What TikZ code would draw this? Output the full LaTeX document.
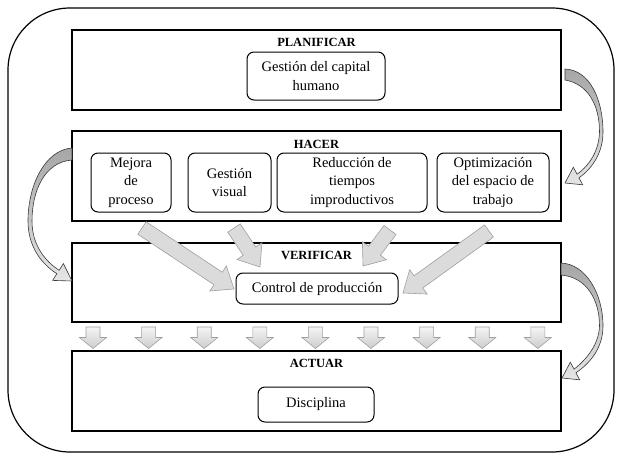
\documentclass[tikz,border=0pt]{standalone}
\usepackage{fontspec}
\setmainfont{Liberation Serif}
\newfontfamily\tnr{Liberation Serif}
\usetikzlibrary{calc}
\newcommand\diagarrow[4]{%
  \pgfmathsetmacro\ddx{#3-#1}\pgfmathsetmacro\ddy{#4-#2}%
  \pgfmathsetmacro\LL{veclen(\ddx,\ddy)}\pgfmathsetmacro\aang{atan2(-\ddy,\ddx)}%
  \begin{scope}[shift={(#1,#2)}, rotate=\aang]
    \path[blockarrow] (0,-7.5) -- (\LL-19,-7.5) -- (\LL-19,-15) -- (\LL,0) -- (\LL-19,15) -- (\LL-19,7.5) -- (0,7.5) -- cycle;
  \end{scope}}
\begin{document}
\begin{tikzpicture}[x=1pt,y=-1pt,
  phase/.style={draw=black, line width=1.1pt, minimum width=489pt, inner sep=0pt, fill=white},
  heading/.style={font=\tnr\fontsize{12.5}{15}\selectfont\bfseries, inner sep=0pt},
  item/.style={draw=black, line width=1pt, rounded corners=7pt, align=center, inner sep=0pt, font=\tnr\fontsize{14.5}{18.5}\selectfont, fill=white},
  blockarrow/.style={draw=gray!75, line width=0.6pt, fill=gray!28, line join=miter},
  downarrow/.style={draw=gray!75, line width=0.6pt, top color=gray!8, bottom color=gray!40},
  curvearrow/.style={draw=gray!45!black, line width=0.6pt, top color=gray!70, bottom color=gray!20}
]
\useasboundingbox (0,0) rectangle (621,455);
\draw[line width=1.2pt, rounded corners=62pt] (8,8) rectangle (614,452);

% phase boxes
\node[phase, minimum height=80pt] (plan) at (316.5,70) {};
\node[phase, minimum height=90pt] (hacer) at (316.5,176) {};
\node[phase, minimum height=79pt] (verif) at (316.5,282.5) {};
\node[phase, minimum height=80pt] (actuar) at (316.5,391) {};

\node[heading] (planT) at (316.5,42) {PLANIFICAR};
\node[heading] (hacerT) at (316.5,144) {HACER};
\node[heading] (verifT) at (316.5,255) {VERIFICAR};
\node[heading] (actuarT) at (316.5,363) {ACTUAR};

% items
\node[item, minimum width=138pt, minimum height=48pt] (gch) at (316,76) {Gestión del capital\\humano};
\node[item, minimum width=80pt, minimum height=59pt] (mejora) at (131,182.5) {Mejora\\de\\proceso};
\node[item, minimum width=83pt, minimum height=59pt] (gvis) at (229.5,182.5) {Gestión\\visual};
\node[item, minimum width=150pt, minimum height=59pt] (reduc) at (352,182.5) {Reducción de\\tiempos\\improductivos};
\node[item, minimum width=112pt, minimum height=59pt] (optim) at (493,182.5) {Optimización\\del espacio de\\trabajo};
\node[item, minimum width=162pt, minimum height=31pt] (control) at (317,288.5) {Control de producción};
\node[item, minimum width=116pt, minimum height=35pt] (disc) at (316,404.5) {Disciplina};

% diagonal block arrows into the control box
\diagarrow{142}{228}{234}{289}
\diagarrow{234}{228}{260}{267}
\diagarrow{390}{230}{363}{266}
\diagarrow{489}{231}{403}{293}

% down arrows between VERIFICAR and ACTUAR
\foreach \i in {0,...,8} {
  \pgfmathsetmacro\cx{93+55.6*\i}
  \path[downarrow] (\cx-7,327) -- (\cx+7,327) -- (\cx+7,337.5) -- (\cx+13.5,337.5) -- (\cx,348.5)
    -- (\cx-13.5,337.5) -- (\cx-7,337.5) -- cycle;
}

% curved arrows
\path[curvearrow] (565,69) .. controls (590,70) and (603,100) .. (603,132)
  .. controls (603,152) and (593,168) .. (578.9,177.8) -- (582.7,184.8) -- (565,183)
  -- (573.3,167.2) -- (577.1,174.2) .. controls (590,165) and (599,150) .. (599.5,132)
  .. controls (599.5,105) and (588,84) .. (565,80) -- cycle;
\path[curvearrow] (72,148) .. controls (45,150) and (28,185) .. (28,221)
  .. controls (28,245) and (40,263) .. (56.9,273.7) -- (52.6,280.4) -- (72,281)
  -- (63.4,263.6) -- (59.1,270.3) .. controls (45,261) and (32,245) .. (32,221)
  .. controls (32,190) and (45,162) .. (72,160) -- cycle;
\path[curvearrow] (561,263) .. controls (586,264) and (603,294) .. (603,326)
  .. controls (603,346) and (592,362) .. (575.9,372.8) -- (579.7,379.8) -- (562,378)
  -- (570.3,362.2) -- (574.1,369.2) .. controls (587,359) and (599,344) .. (599.5,326)
  .. controls (599.5,299) and (586,277) .. (561,275) -- cycle;
\end{tikzpicture}
\end{document}
